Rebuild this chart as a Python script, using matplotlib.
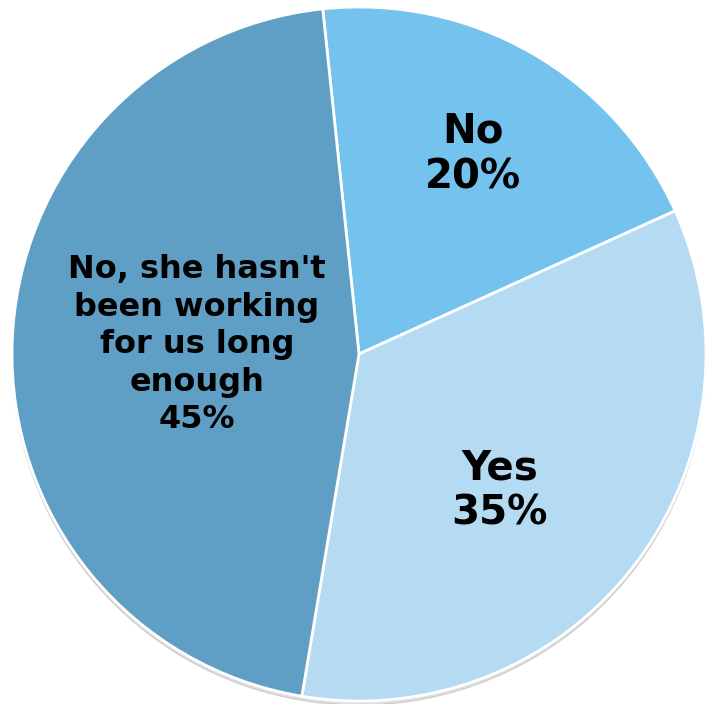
import matplotlib.pyplot as plt
from matplotlib.patches import Circle

labels = ["No", "Yes", "No, she hasn't\nbeen working\nfor us long\nenough"]
shares = [19.9, 34.4, 45.7]
pct_text = ["20%", "35%", "45%"]     # percentages as printed on the chart
colors = ["#73c3ee", "#b5dbf3", "#5f9fc5"]

# label centres (in units of the radius)
label_pos = [(0.329, 0.575), (0.406, -0.395), (-0.467, 0.027)]
label_size = [29, 29, 23]
label_spacing = [1.18, 1.18, 1.27]


def draw_pie(ax):
    shadow = Circle((0.0, -0.012), 1.0, color="#000000", alpha=0.12, zorder=0)
    ax.add_patch(shadow)
    wedges, _ = ax.pie(shares, colors=colors, startangle=96.0, counterclock=False,
                       radius=1.0, wedgeprops=dict(edgecolor="white", linewidth=2))
    for w in wedges:
        w.set_zorder(1)
    for lab, pct, (x, y), fs, ls in zip(labels, pct_text, label_pos, label_size, label_spacing):
        ax.text(x, y, f"{lab}\n{pct}", ha="center", va="center", fontsize=fs,
                fontweight="bold", family="DejaVu Sans", linespacing=ls, zorder=3)


fig = plt.figure(figsize=(7.05, 7.04), dpi=100)
ax = fig.add_axes([0, 0, 1, 1])
draw_pie(ax)
ax.set_aspect("auto")
cx, cy, r = 359, 354, 347
ax.set_xlim(-cx / r, (705 - cx) / r)
ax.set_ylim(-(704 - cy) / r, cy / r)
ax.set_axis_off()
fig.savefig("out.png", dpi=100, facecolor="white")
